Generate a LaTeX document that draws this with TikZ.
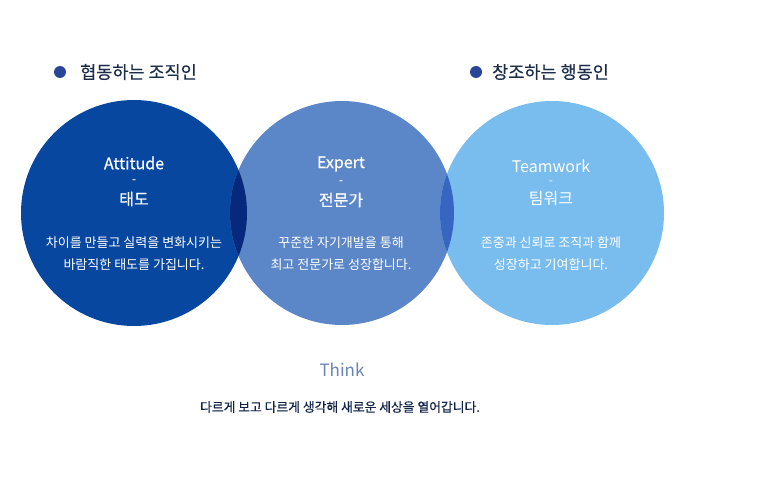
\documentclass[tikz,border=0pt]{standalone}
\usepackage{fontspec}
\setmainfont{Noto Sans CJK KR}
\newfontfamily\semib[FakeBold=0.6]{Noto Sans CJK KR}
\newfontfamily\medf[FakeBold=0.4]{Noto Sans CJK KR}
\definecolor{cA}{HTML}{0747A0}
\definecolor{cB}{HTML}{5B86C7}
\definecolor{cC}{HTML}{79BCEE}
\definecolor{cAB}{HTML}{06297B}
\definecolor{cBC}{HTML}{3766C2}
\definecolor{headc}{HTML}{1B2D4B}
\definecolor{bulletc}{HTML}{2A4699}
\definecolor{thinkc}{HTML}{6A84B5}
\definecolor{bottomc}{HTML}{10234A}
\tikzset{
  ttl/.style={text=white,font=\semib\fontsize{16}{18}\selectfont,inner sep=0pt},
  dsh/.style={text=white,font=\semib\fontsize{11}{12}\selectfont,inner sep=0pt},
  body/.style={text=white,font=\fontsize{13}{22}\selectfont,align=center,inner sep=0pt},
  head/.style={text=headc,font=\medf\fontsize{17.5}{20}\selectfont,anchor=west,inner sep=0pt},
  bul/.style={circle,fill=bulletc,minimum size=12pt,inner sep=0pt}
}
\begin{document}
\begin{tikzpicture}[x=1pt,y=-1pt]
\useasboundingbox[fill=white] (0,0) rectangle (773,484);
% circles
\fill[cA] (134,213) circle (113);
\fill[cB] (342,213) circle (112);
\fill[cC] (552,213) circle (112);
\begin{scope}
\clip (134,213) circle (113);
\fill[cAB] (342,213) circle (112);
\end{scope}
\begin{scope}
\clip (342,213) circle (112);
\fill[cBC] (552,213) circle (112);
\end{scope}
% headings
\node[bul] (b1) at (60,72) {};
\node[head] (h1) at (80,72) {협동하는 조직인};
\node[bul] (b2) at (476,72) {};
\node[head] (h2) at (492,72) {창조하는 행동인};
% circle A
\node[ttl] (a1) at (134,163) {Attitude};
\node[dsh] (a2) at (134,181) {-};
\node[ttl] (a3) at (134,199) {태도};
\node[body] (a4) at (134,254) {차이를 만들고 실력을 변화시키는\\바람직한 태도를 가집니다.};
% circle B
\node[ttl] (e1) at (341,164) {Expert};
\node[dsh] (e2) at (341,182) {-};
\node[ttl] (e3) at (341,200) {전문가};
\node[body] (e4) at (341,254) {꾸준한 자기개발을 통해\\최고 전문가로 성장합니다.};
% circle C
\node[ttl,font=\fontsize{16}{18}\selectfont] (t1) at (551,166) {Teamwork};
\node[dsh,font=\fontsize{11}{12}\selectfont] (t2) at (551,183) {-};
\node[ttl,font=\fontsize{16}{18}\selectfont] (t3) at (551,199) {팀워크};
\node[body] (t4) at (551,254) {존중과 신뢰로 조직과 함께\\성장하고 기여합니다.};
% bottom
\node[text=thinkc,font=\fontsize{17}{20}\selectfont,inner sep=0pt] (th) at (342,370) {Think};
\node[text=bottomc,font=\medf\fontsize{12.8}{15}\selectfont,inner sep=0pt] (bt) at (340,407) {다르게 보고 다르게 생각해 새로운 세상을 열어갑니다.};
\end{tikzpicture}
\end{document}
